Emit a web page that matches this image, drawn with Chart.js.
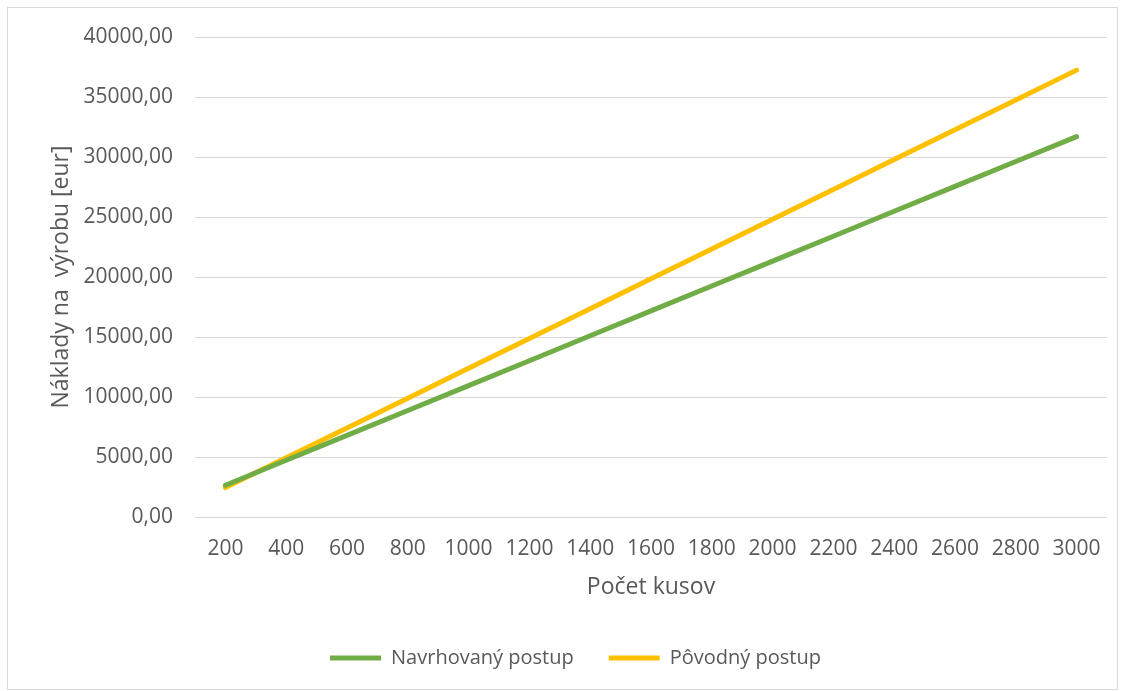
<!DOCTYPE html>
<html>
<head>
<meta charset="utf-8">
<script src="https://cdn.jsdelivr.net/npm/chart.js@4/dist/chart.umd.min.js"></script>
<style>
html,body{margin:0;padding:0;background:#fff;}
#wrap{position:relative;width:1126px;height:691px;}
#frame{position:absolute;left:7px;top:7px;width:1111px;height:683px;border:1px solid #d9d9d9;pointer-events:none;box-sizing:border-box;}
canvas{position:absolute;left:0;top:0;}
</style>
</head>
<body>
<div id="wrap"><canvas id="c" width="1126" height="691"></canvas><div id="frame"></div></div>
<script>
const categories = ['200','400','600','800','1000','1200','1400','1600','1800','2000','2200','2400','2600','2800','3000'];
const navrhovany = [2650,4725,6800,8875,10950,13025,15100,17175,19250,21325,23400,25475,27550,29625,31700];
const povodny = [2450,4935,7420,9905,12390,14875,17360,19845,22330,24815,27300,29785,32270,34755,37240];
const seriesNames = ['Navrhovaný postup','Pôvodný postup'];
const xTitle = 'Počet kusov';
const yTitle = 'Náklady na  výrobu [eur]';

const FONT = "'Open Sans', sans-serif";
const TXT = '#595959';

new Chart(document.getElementById('c'), {
  type: 'line',
  data: {
    labels: categories,
    datasets: [
      {label: seriesNames[0], data: navrhovany, borderColor: '#70AD47', backgroundColor: '#70AD47', borderWidth: 5, pointRadius: 0, borderCapStyle: 'round', borderJoinStyle: 'round', tension: 0},
      {label: seriesNames[1], data: povodny, borderColor: '#FFC000', backgroundColor: '#FFC000', borderWidth: 5, pointRadius: 0, borderCapStyle: 'round', borderJoinStyle: 'round', tension: 0}
    ]
  },
  options: {
    responsive: false,
    animation: false,
    devicePixelRatio: 1,
    layout: {padding: {left: 44, right: 19, top: 37, bottom: 13}},
    plugins: {
      tooltip: {enabled: false},
      legend: {
        position: 'bottom',
        labels: {
          usePointStyle: true,
          pointStyle: 'line',
          pointStyleWidth: 51,
          boxWidth: 51,
          boxHeight: 5,
          padding: 35,
          color: TXT,
          font: {family: FONT, size: 20}
        }
      }
    },
    scales: {
      x: {
        offset: true,
        grid: {display: false, drawTicks: false},
        border: {display: false},
        ticks: {color: TXT, font: {family: FONT, size: 21}, padding: 19, maxRotation: 0, autoSkip: false},
        title: {display: true, text: xTitle, color: TXT, font: {family: FONT, size: 23}, padding: {top: 12, bottom: 12}},
        afterFit: s => { s.height = 96; }
      },
      y: {
        min: 0, max: 40000,
        grid: {color: '#d9d9d9', lineWidth: 1, drawTicks: false},
        border: {display: false},
        ticks: {stepSize: 5000, color: TXT, font: {family: FONT, size: 21}, padding: 22,
          callback: v => v.toFixed(2).replace('.', ',')},
        title: {display: true, text: yTitle, color: TXT, font: {family: FONT, size: 23}, padding: {top: 4, bottom: 6}},
        afterFit: s => { s.width = 151; }
      }
    }
  }
});
</script>
</body>
</html>
